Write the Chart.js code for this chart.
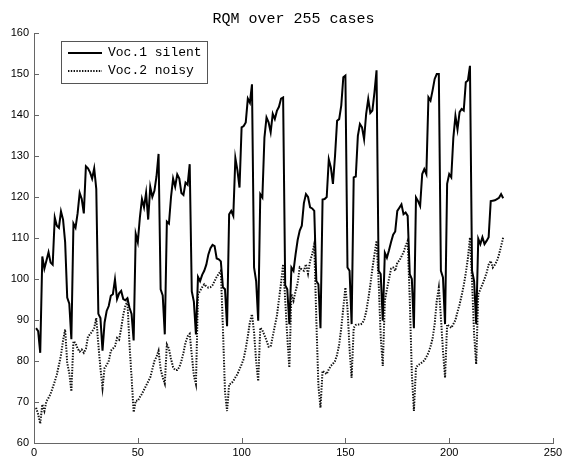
<!DOCTYPE html>
<html>
<head>
<meta charset="utf-8">
<script src="https://cdn.jsdelivr.net/npm/chart.js@4.4.1/dist/chart.umd.min.js"></script>
<style>
  html, body { margin: 0; padding: 0; background: #fff; }
</style>
</head>
<body>
<canvas id="rqmChart" width="565" height="459"></canvas>
<script>
// RQM per case (x = case number 1..226)
const voc1Silent = [
  88, 87.3, 82,
  105.5, 102.5, 104.5, 106.5, 104, 103.5, 115, 113, 112.5, 116.5, 114.5, 109, 95.5, 94, 85.3,
  113.5, 112.5, 116, 121, 119.5, 116, 127.5, 127, 126, 124.5, 127, 122, 91.5, 90.5, 82.5,
  89.4, 92.2, 93.4, 95.9, 96.3, 99.9, 95.1, 96.5, 97.1, 95.1, 94.8, 95.3, 93, 91.5, 85,
  111, 109, 115, 119.5, 117.5, 121, 114.5, 122.5, 120, 121.5, 125, 130.5, 97.5, 96, 86.5,
  114, 113.5, 120, 124.5, 122.5, 125.5, 124.5, 121, 120.5, 123.5, 123, 128, 97, 94.5, 86.5,
  100.5, 99.5, 101, 102, 103.5, 106, 107.5, 108.3, 108, 105, 104.8, 104.3, 98, 97.5, 88.5,
  115.8, 116.6, 115.4, 129.5, 126.5, 122.3, 137, 137.3, 138.2, 144, 143, 147.5, 102.8, 99.5, 89.8,
  120.7, 119.9, 134.5, 139.4, 138.2, 135.8, 140.3, 139, 141, 142, 144, 144.3, 98.5, 97.5, 89,
  102.8, 102, 106, 109.5, 111.8, 113, 118.5, 120.7, 120, 117.5, 117.2, 116.6, 99.5, 98.7, 88,
  119.4, 119.5, 120, 129.2, 127.2, 123.2, 130, 138.6, 139, 142.3, 149.2, 149.6, 102.8, 102, 89,
  124.8, 125, 134.9, 137.8, 137, 134.1, 140.3, 143.9, 140.5, 141.1, 145.5, 150.9, 102, 101.2, 89.8,
  106.4, 105.2, 107, 109, 110.8, 111.6, 116.6, 117.4, 118.2, 115.8, 116.2, 115.4, 101.2, 100, 88,
  119.9, 119, 117.8, 125.6, 126.8, 125.6, 144.3, 143.5, 146, 148.8, 150, 150, 102, 100.4, 89,
  123.2, 125.6, 124.8, 134.5, 139.8, 136.5, 140.7, 141.5, 141.1, 148, 148.4, 152, 102, 99.5, 89,
  109.8, 108.5, 110.2, 108.5, 109.3, 110.2, 119, 119.1, 119.2, 119.5, 119.8, 120.7, 119.7
];

const voc2Noisy = [
  68.6, 67, 64.7,
  69.4, 67.8, 70.2, 71, 72, 73.5, 75, 76.7, 79, 81.5, 85, 87.7, 79.5, 77, 72.6,
  84.8, 84.4, 83, 82.3, 82.8, 82, 83, 86, 86.5, 87.2, 88, 90.5, 84, 78.3, 73.4,
  78.3, 79, 80, 82.5, 83, 83.6, 85.6, 85.2, 88, 91.3, 93.5, 94.5, 84, 76, 67.5,
  70.3, 70.3, 71.2, 72, 73, 74, 75, 76, 78, 80, 81, 82.5, 78, 76, 74.5,
  84, 83, 80.5, 78.5, 77.8, 77.8, 78.5, 80, 82, 84.5, 86, 86.6, 81.5, 76.5, 74.4,
  96.3, 97.1, 98, 98.7, 98.2, 97.9, 98, 98.5, 99.5, 100.5, 101.3, 102, 88, 72.5, 67.8,
  74.3, 74.5, 75.1, 76, 76.8, 78, 79.2, 80.5, 83, 86, 89.5, 91.4, 87, 80, 75.1,
  88.1, 87.5, 86.3, 85, 83.5, 83.5, 86, 88.5, 91, 95, 99, 103.6, 95, 86, 78.4,
  96.3, 94.7, 97, 99, 102.8, 102.3, 102, 103.6, 101.3, 104.4, 106, 108.5, 90, 74, 68.6,
  77.6, 77.2, 76.8, 78, 78.8, 79.3, 80, 81.5, 84, 88, 93, 97.9, 93, 83, 75.9,
  88.1, 88.8, 88.9, 88.9, 89.1, 90, 92, 95, 98.5, 102.5, 106, 109.3, 99.5, 86, 78.8,
  94.7, 97.5, 100, 102.5, 102.8, 102, 104, 104.5, 105.5, 106.5, 108, 109.3, 95, 77, 67.8,
  78.4, 79, 79.3, 79.7, 80.1, 81, 82, 83.5, 85.5, 89, 94.7, 97.9, 90.6, 82.5, 75.9,
  88.9, 88.5, 88.1, 89, 90, 92, 93.8, 96, 98.5, 101.5, 105, 110.1, 99.5, 86.5, 79.2,
  96.3, 97.5, 98.7, 100, 101.5, 103.5, 104.4, 102.8, 103.5, 104.4, 106, 108, 110.1
];

// case numbers (x categories)
const caseNo = [];
for (let i = 1; i <= voc1Silent.length; i++) caseNo.push(i);

const seriesNames = ['Voc.1 silent', 'Voc.2 noisy'];
const chartTitle = 'RQM over 255 cases';

const monoFont = '"Liberation Mono", "DejaVu Sans Mono", monospace';
const tickFont = { family: '"Liberation Sans", Arial, sans-serif', size: 11 };
const axisGray = '#666';

// title, inward ticks and boxed legend the way MATLAB draws them
const matlabDecor = {
  id: 'matlabDecor',
  afterDraw(chart) {
    const { ctx, chartArea: a, scales: { x, y } } = chart;
    ctx.save();

    ctx.strokeStyle = axisGray;
    ctx.lineWidth = 1;
    ctx.beginPath();
    x.ticks.forEach(t => {
      const px = Math.round(x.getPixelForValue(t.value)) + 0.5;
      ctx.moveTo(px, a.bottom);
      ctx.lineTo(px, a.bottom - 5);
    });
    y.ticks.forEach(t => {
      const py = Math.round(y.getPixelForValue(t.value)) + 0.5;
      ctx.moveTo(a.left, py);
      ctx.lineTo(a.left + 5, py);
    });
    ctx.stroke();

    // title
    ctx.fillStyle = '#000';
    ctx.font = '15px ' + monoFont;
    ctx.textAlign = 'center';
    ctx.textBaseline = 'middle';
    ctx.fillText(chartTitle, (a.left + a.right) / 2, 19);

    // legend
    const lx = 61.5, ly = 41.5, lw = 146, lh = 42;
    ctx.fillStyle = '#fff';
    ctx.fillRect(lx, ly, lw, lh);
    ctx.strokeStyle = '#555';
    ctx.strokeRect(lx, ly, lw, lh);

    const ds = chart.data.datasets;
    const rows = [53, 71];
    ds.forEach((d, i) => {
      ctx.beginPath();
      ctx.strokeStyle = d.borderColor;
      ctx.lineWidth = d.borderWidth;
      ctx.setLineDash(d.borderDash || []);
      ctx.moveTo(68, rows[i]);
      ctx.lineTo(102, rows[i]);
      ctx.stroke();
      ctx.setLineDash([]);
      ctx.fillStyle = '#000';
      ctx.font = '13px ' + monoFont;
      ctx.textAlign = 'left';
      ctx.fillText(d.label, 108, rows[i]);
    });
    ctx.restore();
  }
};

const ctx = document.getElementById('rqmChart').getContext('2d');
const rqmChart = new Chart(ctx, {
  type: 'line',
  data: {
    labels: caseNo,
    datasets: [
      {
        label: seriesNames[0],
        data: voc1Silent,
        borderColor: '#000',
        borderWidth: 2,
        pointRadius: 0,
        tension: 0
      },
      {
        label: seriesNames[1],
        data: voc2Noisy,
        borderColor: '#111',
        borderWidth: 2,
        borderDash: [1.4, 1.4],
        pointRadius: 0,
        tension: 0
      }
    ]
  },
  options: {
    responsive: false,
    animation: false,
    layout: { padding: { top: 33, right: 12, bottom: 0, left: 0 } },
    plugins: {
      legend: { display: false },
      title: { display: false },
      tooltip: { enabled: false }
    },
    scales: {
      x: {
        type: 'linear',
        min: 0,
        max: 250,
        grid: { display: false, drawTicks: false },
        border: { display: true, color: axisGray, width: 1 },
        ticks: { stepSize: 50, color: '#000', font: tickFont, padding: 3, maxRotation: 0 },
        afterFit(scale) {
          scale.height = 16;
          scale.paddingLeft = 0;
          scale.paddingRight = 0;
        }
      },
      y: {
        min: 60,
        max: 160,
        grid: { display: false, drawTicks: false },
        border: { display: true, color: axisGray, width: 1 },
        ticks: { stepSize: 10, color: '#000', font: tickFont, padding: 5 },
        afterFit(scale) {
          scale.width = 34;
          scale.paddingTop = 0;
          scale.paddingBottom = 0;
        }
      }
    }
  },
  plugins: [matlabDecor]
});
</script>
</body>
</html>
